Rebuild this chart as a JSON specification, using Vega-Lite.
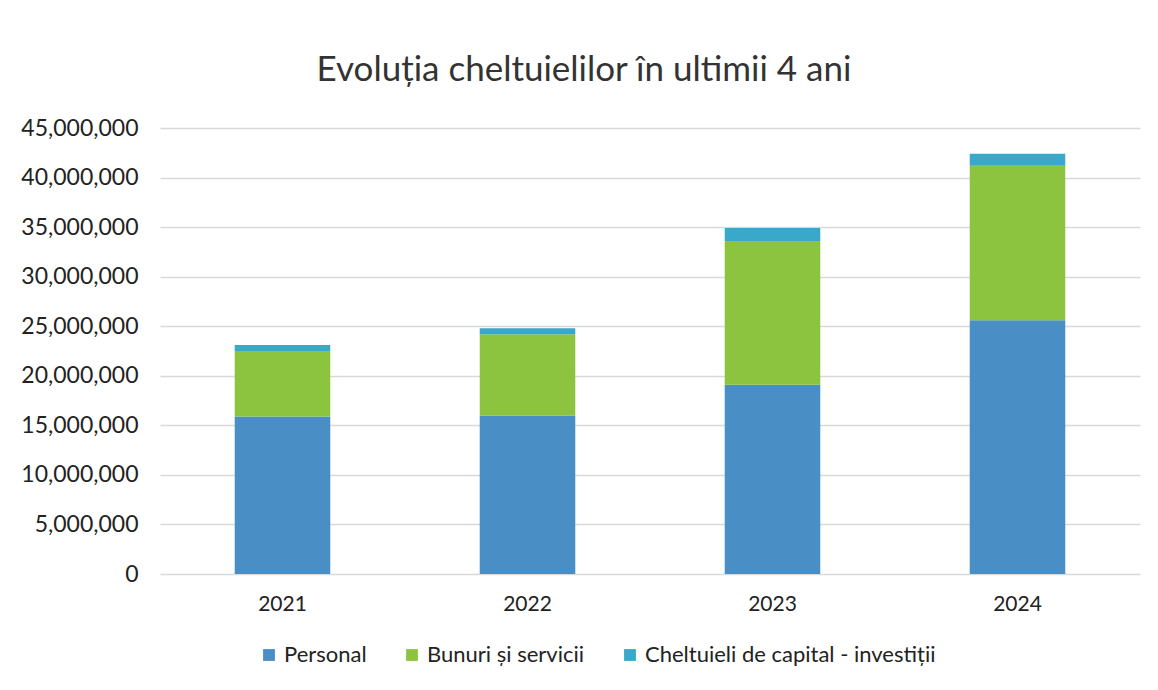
{
  "$schema": "https://vega.github.io/schema/vega-lite/v6.json",
  "width": 980,
  "height": 446,
  "autosize": "none",
  "padding": {"left": 160, "right": 18, "top": 128, "bottom": 116},
  "background": "white",
  "title": {"text": "Evoluția cheltuielilor în ultimii 4 ani", "font": "Lato", "fontSize": 35, "fontWeight": "normal", "color": "#333333", "offset": 29, "anchor": "middle", "frame": "group", "dx": -66},
  "data": {"values": [
    {"an": "2021", "categorie": "Personal", "ord": 1, "valoare": 15900000},
    {"an": "2021", "categorie": "Bunuri și servicii", "ord": 2, "valoare": 6600000},
    {"an": "2021", "categorie": "Cheltuieli de capital - investiții", "ord": 3, "valoare": 600000},
    {"an": "2022", "categorie": "Personal", "ord": 1, "valoare": 16000000},
    {"an": "2022", "categorie": "Bunuri și servicii", "ord": 2, "valoare": 8200000},
    {"an": "2022", "categorie": "Cheltuieli de capital - investiții", "ord": 3, "valoare": 600000},
    {"an": "2023", "categorie": "Personal", "ord": 1, "valoare": 19100000},
    {"an": "2023", "categorie": "Bunuri și servicii", "ord": 2, "valoare": 14500000},
    {"an": "2023", "categorie": "Cheltuieli de capital - investiții", "ord": 3, "valoare": 1300000},
    {"an": "2024", "categorie": "Personal", "ord": 1, "valoare": 25600000},
    {"an": "2024", "categorie": "Bunuri și servicii", "ord": 2, "valoare": 15600000},
    {"an": "2024", "categorie": "Cheltuieli de capital - investiții", "ord": 3, "valoare": 1200000}
  ]},
  "mark": {"type": "bar"},
  "encoding": {
    "x": {"field": "an", "type": "nominal", "scale": {"paddingInner": 0.61, "paddingOuter": 0.305},
      "axis": {"title": null, "labelAngle": 0, "labelFont": "Lato", "labelFontSize": 21, "labelColor": "#222222", "domain": false, "ticks": false, "labelPadding": 19}},
    "y": {"field": "valoare", "type": "quantitative", "stack": "zero", "scale": {"domain": [0, 45000000], "nice": false},
      "axis": {"title": null, "values": [0,5000000,10000000,15000000,20000000,25000000,30000000,35000000,40000000,45000000], "labelOverlap": false, "format": ",d", "labelFont": "Lato", "labelFontSize": 23, "labelColor": "#222222", "domain": false, "ticks": false, "labelPadding": 22, "gridColor": "#d9d9d9", "gridWidth": 1.5}},
    "color": {"field": "categorie", "type": "nominal",
      "scale": {"domain": ["Personal", "Bunuri și servicii", "Cheltuieli de capital - investiții"], "range": ["#4a8ec6", "#8cc43f", "#3aa9c9"]},
      "legend": {"title": null, "orient": "none", "legendX": 98, "legendY": 516, "direction": "horizontal", "symbolType": "square", "symbolSize": 140, "labelFont": "Lato", "labelFontSize": 22, "labelColor": "#222222", "columnPadding": 34, "labelLimit": 400}},
    "order": {"field": "ord", "type": "quantitative"}
  },
  "config": {"view": {"stroke": null}}
}
